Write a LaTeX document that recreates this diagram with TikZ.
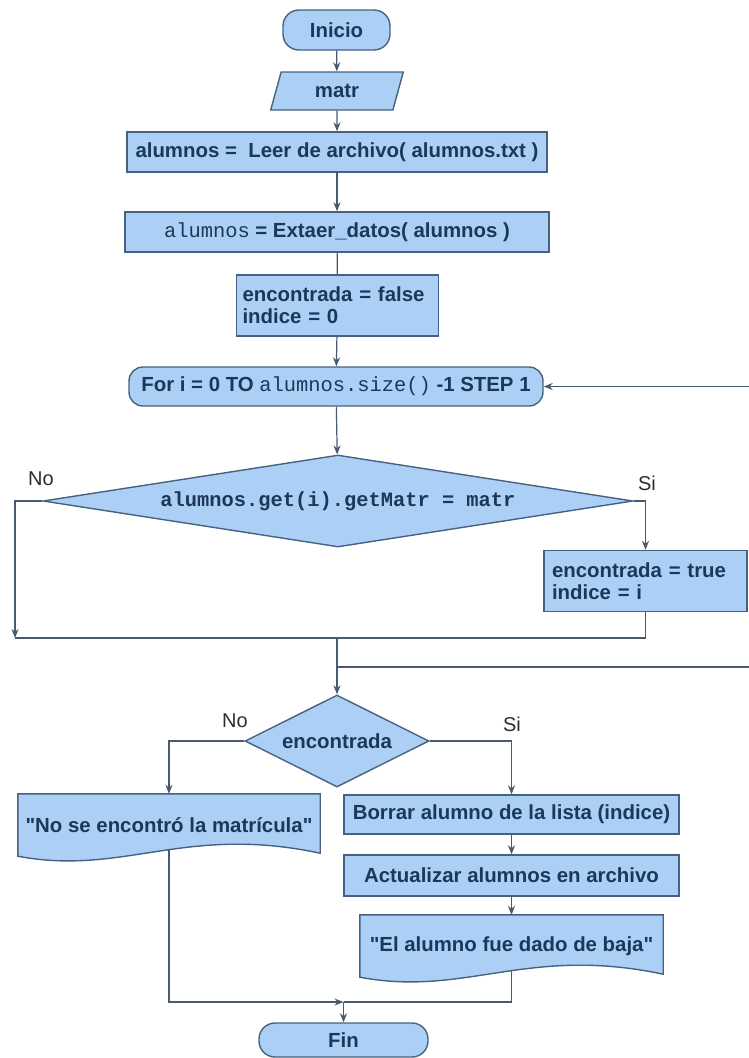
\documentclass[tikz,border=0pt]{standalone}
\usepackage{fontspec}
\setmainfont{Liberation Sans}
\setmonofont{Liberation Mono}
\usetikzlibrary{shapes.geometric,arrows.meta,calc,backgrounds}
\definecolor{boxblue}{RGB}{172,208,245}
\definecolor{boxedge}{RGB}{70,98,128}
\definecolor{textnavy}{RGB}{27,55,90}
\definecolor{wiregray}{RGB}{72,90,112}
\definecolor{lblgray}{RGB}{45,45,45}

\begin{document}
\begin{tikzpicture}[x=1pt,y=-1pt,
    font=\fontsize{20.4}{22}\selectfont\bfseries,
    base/.style={draw=boxedge,fill=boxblue,line width=1.4pt,text=textnavy,inner sep=0pt},
    proc/.style={base,rectangle,minimum height=40},
    term/.style={base,rectangle,rounded corners=16pt,minimum height=40},
    inbox/.style={base,trapezium,trapezium left angle=73,trapezium right angle=107,
      trapezium stretches=true,minimum width=133,minimum height=38},
    assign/.style={base,rectangle,align=left,inner xsep=6pt,text width=190,minimum height=61},
    decide/.style 2 args={base,diamond,minimum width=#1,minimum height=92,aspect=#2},
    docnode/.style={rectangle,inner sep=0pt,text=textnavy,minimum width=302,minimum height=62},
    docline/.style={draw=boxedge,fill=boxblue,line width=1.4pt},
    lbl/.style={font=\fontsize{20}{22}\selectfont\mdseries,text=lblgray,inner sep=0pt},
    wire/.style={draw=wiregray,line width=1.2pt},
    arr/.style={wire,-{Stealth[length=9pt,width=7pt]}}]
  \useasboundingbox (0,0) rectangle (749,1058);

  % main column
  \node[term,minimum width=107] (ini) at (336.5,30) {Inicio};
  \node[inbox] (matr) at (337,91) {matr};
  \node[proc,minimum width=420] (leer) at (337,152) {alumnos =\ \ Leer de archivo( alumnos.txt )};
  \node[proc,minimum width=424] (extr) at (337,232)
    {{\ttfamily\mdseries alumnos} = Extaer\_datos( alumnos )};
  \node[assign] (ini0) at (337.5,305.5) {encontrada = false\\indice = 0};
  \node[term,rounded corners=14pt,minimum width=414,minimum height=39] (for) at (336,386.5)
    {For i = 0 TO {\ttfamily\mdseries alumnos.size()} -1 STEP 1};
  \node[decide={590}{6.41}] (cond) at (338,501) {\ttfamily alumnos.get(i).getMatr = matr};
  \node[assign,inner xsep=8pt,text width=187] (enc) at (645.5,581) {encontrada = true\\indice = i};
  \node[decide={184}{2}] (found) at (337,741) {encontrada};

  % branches of the second decision
  \node[docnode] (nof) at (169,825) {\textquotedbl No se encontró la matrícula\textquotedbl};
  \node[proc,minimum width=335,minimum height=39] (borr) at (511.5,814.5)
    {Borrar alumno de la lista (indice)};
  \node[proc,minimum width=335,minimum height=41] (act) at (511.5,875.5)
    {Actualizar alumnos en archivo};
  \node[docnode,minimum width=303] (baja) at (511.5,946)
    {\textquotedbl El alumno fue dado de baja\textquotedbl};
  \node[term,minimum width=169,minimum height=34] (fin) at (343.5,1040) {Fin};

  % document outlines
  \begin{scope}[on background layer]
    \foreach \d in {nof,baja}
      \draw[docline] (\d.north west) -- (\d.north east) -- ([yshift=3pt]\d.south east)
        .. controls ($(\d.south west)!0.55!(\d.south east)+(0,-32)$)
        and ($(\d.south west)!0.35!(\d.south east)+(0,20)$) .. (\d.south west) -- cycle;
  \end{scope}

  % labels
  \node[lbl] (no1) at (41,479) {No};
  \node[lbl] (si1) at (647,483) {Si};
  \node[lbl] (no2) at (235,721) {No};
  \node[lbl] (si2) at (512,724) {Si};

  % junctions
  \coordinate (nol) at (15,638);
  \coordinate (sil) at (645.5,638);
  \coordinate (mrg) at (337,638);
  \coordinate (back) at (749,667);
  \coordinate (loop) at (749,386.5);
  \coordinate (jn) at (343.5,1002);

  % connectors
  \draw[arr] (ini) -- (matr);
  \draw[arr] (matr) -- (leer);
  \draw[arr] (leer) -- (extr);
  \draw[wire] (extr) -- (ini0);
  \draw[arr] (ini0) -- (for);
  \draw[arr] (for) -- (cond);
  \draw[arr] (cond.west) -| (nol);
  \draw[arr] (cond.east) -| (enc.north);
  \draw[wire] (enc.south) -- (sil) -- (nol);
  \draw[arr] (mrg) -- (found.north);
  \draw[wire] (back) -- (mrg |- back);
  \draw[arr] (loop) -- (for.east);
  \draw[arr] (found.west) -| (nof.north);
  \draw[arr] (found.east) -| (borr.north);
  \draw[arr] (borr) -- (act);
  \draw[arr] (act) -- (baja);
  \draw[arr] ([yshift=7pt]nof.south) |- (jn);
  \draw[wire] ([yshift=7pt]baja.south) |- (jn);
  \draw[arr] (jn) -- (fin);
\end{tikzpicture}
\end{document}
